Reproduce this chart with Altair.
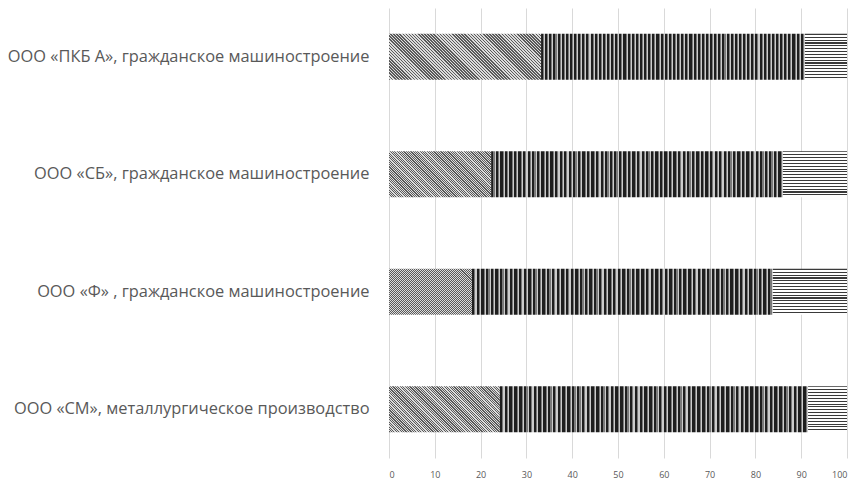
import altair as alt
import pandas as pd

companies = [
    "ООО «ПКБ А», гражданское машиностроение",
    "ООО «СБ», гражданское машиностроение",
    "ООО «Ф» , гражданское машиностроение",
    "ООО «СМ», металлургическое производство",
]
seg1 = [33.2, 22.3, 18.1, 24.2]
seg2 = [57.6, 63.7, 65.7, 67.3]
seg3 = [9.2, 14.0, 16.2, 8.5]
x_ticks = [0, 10, 20, 30, 40, 50, 60, 70, 80, 90, 100]

rows = []
for c, a, b, d in zip(companies, seg1, seg2, seg3):
    rows.append({"company": c, "seg": "s1", "start": 0, "end": a})
    rows.append({"company": c, "seg": "s2", "start": a, "end": a + b})
    rows.append({"company": c, "seg": "s3", "start": a + b, "end": a + b + d})
df = pd.DataFrame(rows)

PLOT_W = 458
PLOT_H = 450
BAR_H = PLOT_H / (4 - 0.61 + 0.44) * 0.39


def stripes(n, pattern, x1, y1, x2, y2):
    stops = []
    for i in range(n):
        pos = i / n
        for color, frac in pattern:
            stops.append(alt.GradientStop(offset=min(pos, 1.0), color=color))
            pos += frac / n
            stops.append(alt.GradientStop(offset=min(pos, 1.0), color=color))
    return alt.Gradient(gradient="linear", stops=stops, x1=x1, y1=y1, x2=x2, y2=y2)


def diag(width_px, height_px):
    b = height_px / width_px
    k = (1 + b) / (1 + b * b)
    return stripes(64, [("#5a5a5a", 0.5), ("#dcdcdc", 0.5)], 0, 1, k, 1 - k * b)


vert = stripes(64, [("#1e1e1e", 0.5), ("#7a7a7a", 0.25), ("#cccccc", 0.25)], 0, 0, 1, 0)
horiz = stripes(16, [("#3a3a3a", 0.375), ("#ffffff", 0.625)], 0, 0, 0, 1)

x_enc = alt.X(
    "start:Q",
    scale=alt.Scale(domain=[0, 100], nice=False),
    axis=alt.Axis(
        values=x_ticks, title=None, domain=False, ticks=False, grid=True,
        gridColor="#d9d9d9", labelFontSize=9, labelColor="#595959",
        labelFont="Open Sans", labelPadding=12,
    ),
)
y_enc = alt.Y(
    "company:N",
    sort=companies,
    scale=alt.Scale(paddingInner=0.61, paddingOuter=0.22),
    axis=alt.Axis(
        title=None, domain=False, ticks=False, labelFontSize=16.4,
        labelColor="#595959", labelFont="Open Sans", labelPadding=20,
        labelLimit=0,
    ),
)

base = alt.Chart(df).encode(x=x_enc, x2="end:Q", y=y_enc)

layers = []
for c, v in zip(companies, seg1):
    f = base.transform_filter(
        (alt.datum.seg == "s1") & (alt.datum.company == c)
    )
    layers.append(f.mark_bar(color=diag(v * PLOT_W / 100, BAR_H)))

layers.append(base.transform_filter(alt.datum.seg == "s2").mark_bar(color=vert))
layers.append(base.transform_filter(alt.datum.seg == "s3").mark_bar(color=horiz))

chart = (
    alt.layer(*layers)
    .properties(
        width=PLOT_W,
        height=PLOT_H,
        autosize=alt.AutoSizeParams(type="none"),
        padding={"left": 381, "top": 0, "right": 12, "bottom": 22},
    )
    .configure_view(stroke=None)
)

chart.save("out.html", embed_options={"renderer": "svg", "actions": False})
